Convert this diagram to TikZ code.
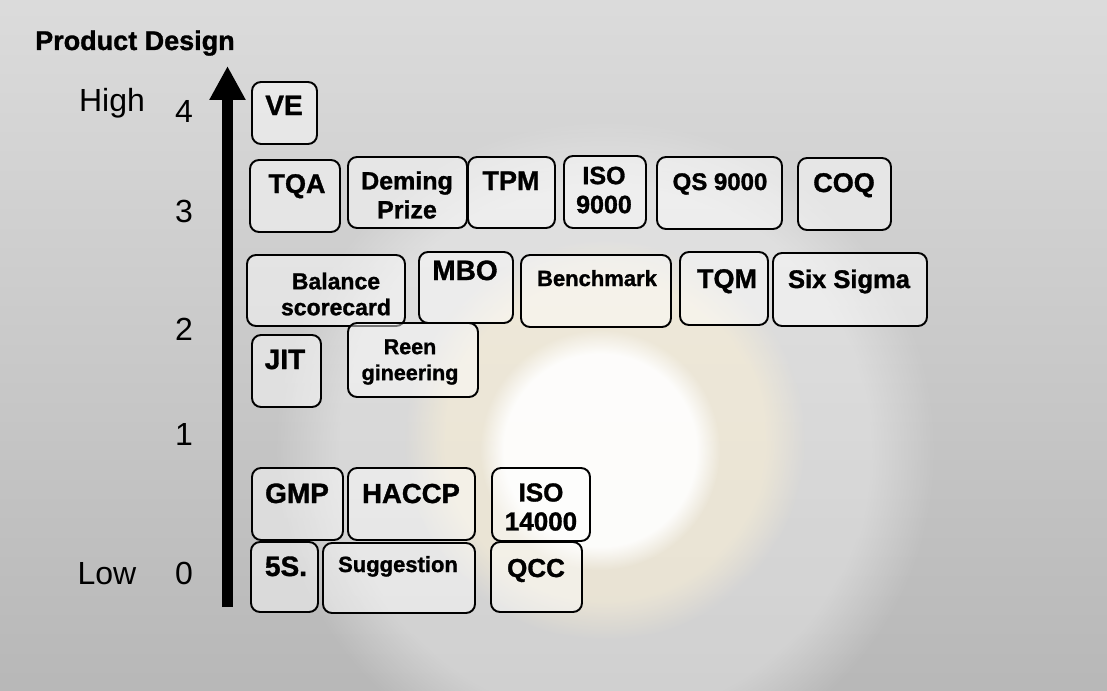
\documentclass[tikz,border=0pt]{standalone}
\usepackage{fontspec}
\setmainfont[BoldFeatures={FakeBold=1.2}]{Liberation Sans}
\usetikzlibrary{arrows.meta,fadings}
\definecolor{bgtop}{rgb}{0.86,0.86,0.86}
\definecolor{bgbot}{rgb}{0.72,0.72,0.72}
\definecolor{sunray}{rgb}{1.00,0.93,0.75}
\tikzset{
  box/.style={draw, line width=1.9pt, rounded corners=9pt, fill=white, fill opacity=0.45, anchor=north west, inner sep=0pt, outer sep=0pt},
  lbl/.style={font=\bfseries\fontsize{27}{29}\selectfont, align=center, inner sep=0pt},
  fs/.style={font=\bfseries\fontsize{#1}{29}\selectfont},
  fsl/.style 2 args={font=\bfseries\fontsize{#1}{#2}\selectfont},
  axislbl/.style={font=\fontsize{32}{34}\selectfont, inner sep=0pt, anchor=base},
  axis/.style={line width=11pt, -{Triangle[width=34pt,length=34pt]}},
}
% name, x1, y1, x2, y2, text x, text y, extra style, text
\newcommand\bx[9]{%
  \node[box, minimum width={#4-#2}, minimum height={#5-#3}] (#1) at (#2,#3) {};
  \node[lbl,#8] (#1t) at (#6,#7) {#9};}
\begin{document}
\begin{tikzpicture}[x=1pt,y=-1pt]
\useasboundingbox (0,0) rectangle (1107,690);
\shade[top color=bgtop, bottom color=bgbot] (0,0) rectangle (1107,690);
% faint watermark glow
\fill[sunray, opacity=0.5, path fading=circle with fuzzy edge 20 percent] (605,440) circle (200);
\fill[white, opacity=0.35, path fading=circle with fuzzy edge 20 percent] (605,450) circle (330);
\fill[white, opacity=0.9, path fading=circle with fuzzy edge 20 percent] (600,450) circle (120);
% axis
\coordinate (ybot) at (227.5,607);
\coordinate (ytop) at (227.5,66);
\draw[axis] (ybot) -- (ytop);
\node[font=\bfseries\fontsize{27}{30}\selectfont, inner sep=0pt, anchor=base west] (title) at (35,50) {Product Design};
\node[axislbl] (high) at (112,112) {High};
\node[axislbl] (low) at (107,584) {Low};
\node[axislbl] (n4) at (184,122) {4};
\node[axislbl] (n3) at (184,222) {3};
\node[axislbl] (n2) at (184,340) {2};
\node[axislbl] (n1) at (184,445) {1};
\node[axislbl] (n0) at (184,584) {0};
% level 4
\bx{ve}{252}{82}{317}{144}{284}{115}{anchor=base,fs=28}{VE}
% level 3
\bx{tqa}{250}{160}{340}{232}{297}{193}{anchor=base}{TQA}
\bx{deming}{348}{157}{467}{228}{407}{195}{fs=25}{Deming\\Prize}
\bx{tpm}{468}{157}{555}{228}{511}{190}{anchor=base}{TPM}
\bx{iso9}{564}{156}{646}{228}{604}{190}{fs=25}{ISO\\9000}
\bx{qs}{657}{157}{782}{229}{720}{190}{anchor=base,fs=24}{QS 9000}
\bx{coq}{798}{158}{891}{230}{844}{192}{anchor=base}{COQ}
% level 2
\bx{bsc}{247}{255}{405}{326}{336}{294}{fsl={23}{26}}{Balance\\scorecard}
\bx{mbo}{419}{252}{513}{323}{465}{280}{anchor=base,fs=28}{MBO}
\bx{bench}{521}{255}{671}{327}{597}{286}{anchor=base,fs=22}{Benchmark}
\bx{tqm}{680}{252}{768}{325}{727}{288}{anchor=base}{TQM}
\bx{six}{773}{253}{927}{326}{849}{288}{anchor=base,fs=25.5}{Six Sigma}
\bx{jit}{252}{335}{321}{407}{285}{369}{anchor=base,fs=28}{JIT}
\bx{reen}{348}{323}{478}{397}{410}{362}{fsl={21.5}{26}}{Reen\\gineering}
% level 0-1
\bx{gmp}{252}{468}{343}{540}{297}{503}{anchor=base,fs=28}{GMP}
\bx{haccp}{348}{468}{475}{540}{411}{503}{anchor=base,fs=27.5}{HACCP}
\bx{iso14}{492}{468}{590}{541}{541}{507}{fs=26}{ISO\\14000}
\bx{fives}{251}{542}{318}{612}{286}{576}{anchor=base,fs=28}{5S.}
\bx{sugg}{323}{543}{475}{613}{398}{572}{anchor=base,fs=22}{Suggestion}
\bx{qcc}{491}{542}{582}{612}{536}{577}{anchor=base,fs=26}{QCC}
\end{tikzpicture}
\end{document}
